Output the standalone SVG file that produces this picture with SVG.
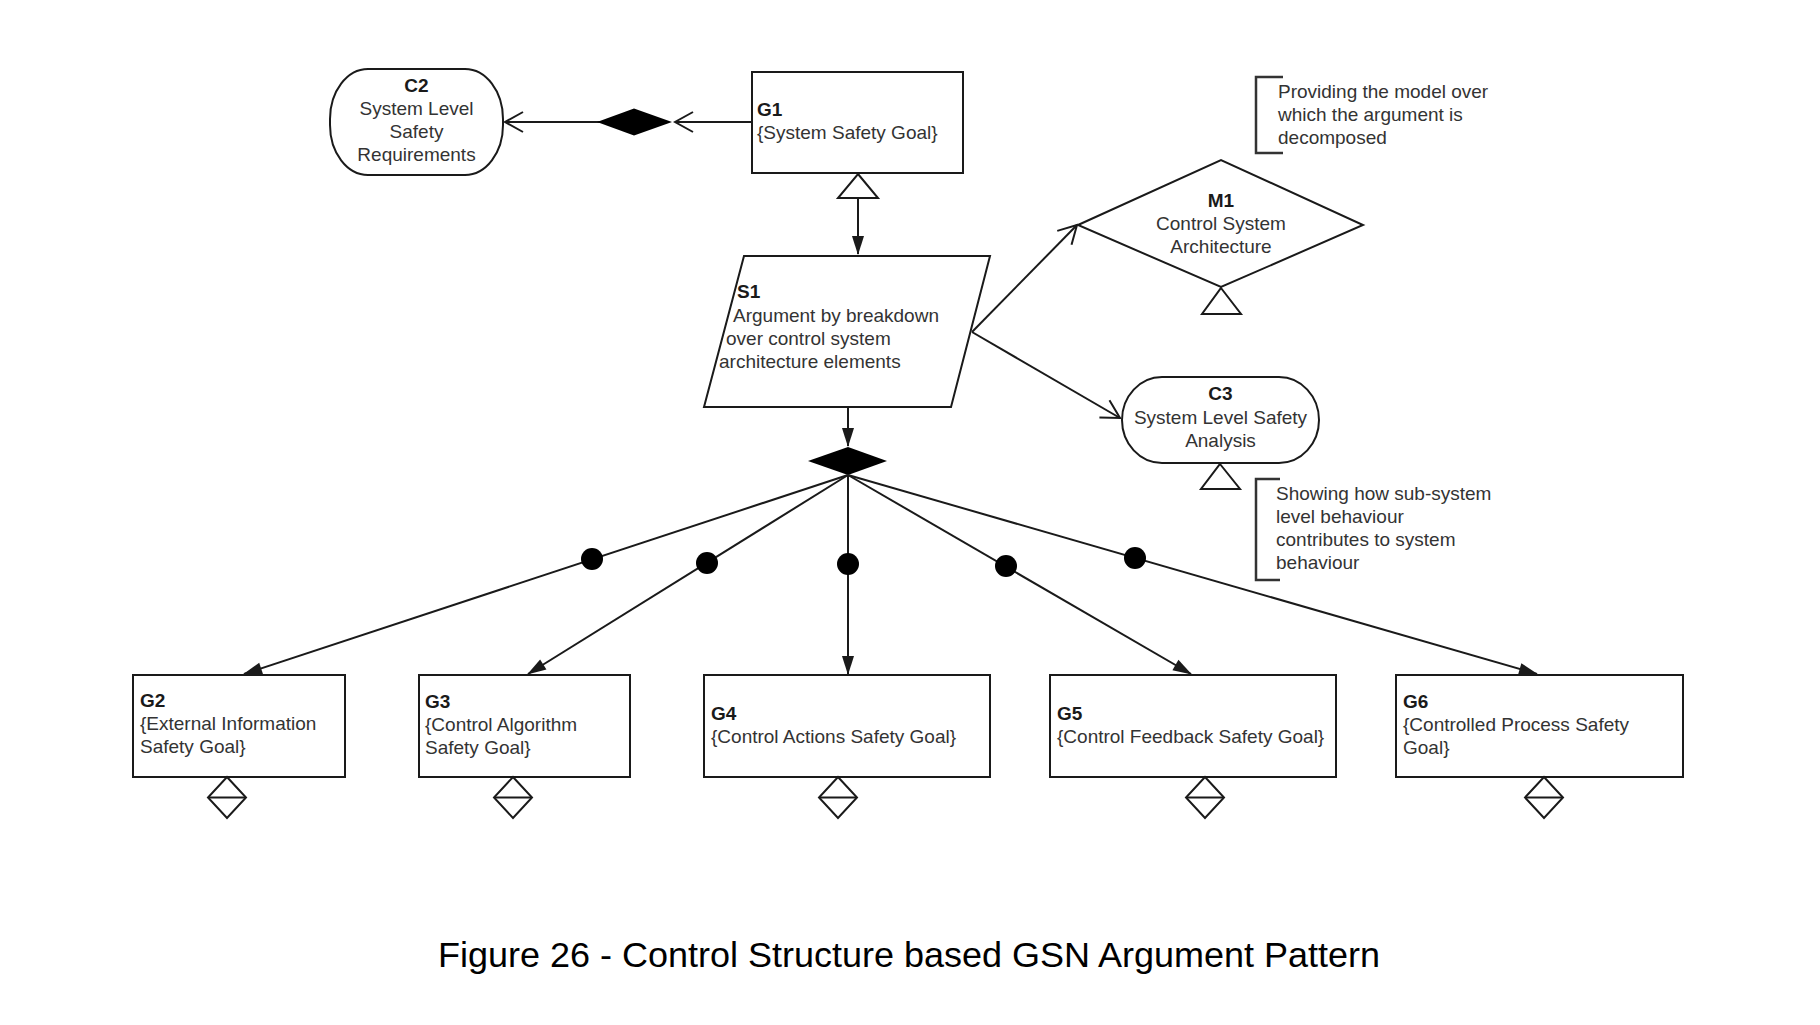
<svg xmlns="http://www.w3.org/2000/svg" width="1820" height="1025" viewBox="0 0 1820 1025">
<defs>
<style>
.shape{fill:#fff;stroke:#1a1a1a;stroke-width:2}
.edge{fill:none;stroke:#1a1a1a;stroke-width:2}
.t{font-family:"Liberation Sans",Arial,sans-serif;font-size:19px;fill:#333}
.b{font-family:"Liberation Sans",Arial,sans-serif;font-size:19px;font-weight:bold;fill:#1a1a1a}
.c{text-anchor:middle}
.br{fill:none;stroke:#333;stroke-width:2.5}
.cap{font-family:"Liberation Sans",Arial,sans-serif;font-size:35px;fill:#000}
</style>
<marker id="open" viewBox="-21 -12 23 24" refX="0" refY="0" markerWidth="23" markerHeight="24" orient="auto" markerUnits="userSpaceOnUse">
<path d="M-18,-10 L0,0 L-18,10" fill="none" stroke="#1a1a1a" stroke-width="2"/>
</marker>
<marker id="fill" viewBox="-20 -8 22 16" refX="0" refY="0" markerWidth="22" markerHeight="16" orient="auto" markerUnits="userSpaceOnUse">
<path d="M-18,-6 L1,0 L-18,6 Z" fill="#1a1a1a"/>
</marker>
</defs>
<rect width="1820" height="1025" fill="#fff"/>

<g id="connectors">
<line class="edge" x1="752" y1="122" x2="675" y2="122" marker-end="url(#open)"/>
<line class="edge" x1="600" y1="122" x2="505" y2="122" marker-end="url(#open)"/>
<polygon points="597,122 634,108.5 672,122 634,135.5" fill="#000"/>
<line class="edge" x1="858" y1="198" x2="858" y2="254" marker-end="url(#fill)"/>
<line class="edge" x1="972" y1="332" x2="1077" y2="225" marker-end="url(#open)"/>
<line class="edge" x1="972" y1="332" x2="1120" y2="418" marker-end="url(#open)"/>
<line class="edge" x1="848" y1="407" x2="848" y2="446" marker-end="url(#fill)"/>
<polygon points="808,461 848,447 887,461 848,475" fill="#000"/>
<line class="edge" x1="848" y1="475" x2="244" y2="674" marker-end="url(#fill)"/>
<line class="edge" x1="848" y1="475" x2="528" y2="674" marker-end="url(#fill)"/>
<line class="edge" x1="848" y1="475" x2="848" y2="674" marker-end="url(#fill)"/>
<line class="edge" x1="848" y1="475" x2="1191" y2="674" marker-end="url(#fill)"/>
<line class="edge" x1="848" y1="475" x2="1537" y2="674" marker-end="url(#fill)"/>
<circle cx="592" cy="559" r="11" fill="#000"/>
<circle cx="707" cy="563" r="11" fill="#000"/>
<circle cx="848" cy="564" r="11" fill="#000"/>
<circle cx="1006" cy="566" r="11" fill="#000"/>
<circle cx="1135" cy="558" r="11" fill="#000"/>
</g>

<g id="C2">
<rect class="shape" x="330" y="69" width="173" height="106" rx="38" ry="50"/>
<text class="b c" x="416.5" y="92">C2</text>
<text class="t c" x="416.5" y="115">System Level</text>
<text class="t c" x="416.5" y="138">Safety</text>
<text class="t c" x="416.5" y="161">Requirements</text>
</g>

<g id="G1">
<rect class="shape" x="752" y="72" width="211" height="101"/>
<text class="b" x="757" y="116">G1</text>
<text class="t" x="757" y="139">{System Safety Goal}</text>
<polygon class="shape" points="858,174 878,198 838,198"/>
</g>

<g id="S1">
<polygon class="shape" points="744,256 990,256 951,407 704,407"/>
<text class="b" x="737" y="298">S1</text>
<text class="t" x="733" y="322">Argument by breakdown</text>
<text class="t" x="726" y="345">over control system</text>
<text class="t" x="719" y="368">architecture elements</text>
</g>

<g id="M1">
<polygon class="shape" points="1078,225 1221,160 1363,225 1221,287"/>
<text class="b c" x="1221" y="207">M1</text>
<text class="t c" x="1221" y="230">Control System</text>
<text class="t c" x="1221" y="253">Architecture</text>
<polygon class="shape" points="1221,288 1241,314 1202,314"/>
</g>

<g id="C3">
<rect class="shape" x="1122" y="377" width="197" height="86" rx="40" ry="43"/>
<text class="b c" x="1220.5" y="400">C3</text>
<text class="t c" x="1220.5" y="424">System Level Safety</text>
<text class="t c" x="1220.5" y="447">Analysis</text>
<polygon class="shape" points="1220,464 1240,489 1201,489"/>
</g>

<g id="A1">
<path class="br" d="M1283,77 L1256,77 L1256,153 L1283,153"/>
<text class="t" x="1278" y="98">Providing the model over</text>
<text class="t" x="1278" y="121">which the argument is</text>
<text class="t" x="1278" y="144">decomposed</text>
</g>

<g id="A2">
<path class="br" d="M1280,479 L1256,479 L1256,580 L1280,580"/>
<text class="t" x="1276" y="500">Showing how sub-system</text>
<text class="t" x="1276" y="523">level behaviour</text>
<text class="t" x="1276" y="546">contributes to system</text>
<text class="t" x="1276" y="569">behaviour</text>
</g>

<g id="G2">
<rect class="shape" x="133" y="675" width="212" height="102"/>
<text class="b" x="140" y="707">G2</text>
<text class="t" x="140" y="730">{External Information</text>
<text class="t" x="140" y="753">Safety Goal}</text>
<polygon class="shape" points="227,777 246,797.5 227,818 208,797.5"/>
<line class="edge" x1="208" y1="797.5" x2="246" y2="797.5"/>
</g>

<g id="G3">
<rect class="shape" x="419" y="675" width="211" height="102"/>
<text class="b" x="425" y="708">G3</text>
<text class="t" x="425" y="731">{Control Algorithm</text>
<text class="t" x="425" y="754">Safety Goal}</text>
<polygon class="shape" points="513,777 532,797.5 513,818 494,797.5"/>
<line class="edge" x1="494" y1="797.5" x2="532" y2="797.5"/>
</g>

<g id="G4">
<rect class="shape" x="704" y="675" width="286" height="102"/>
<text class="b" x="711" y="720">G4</text>
<text class="t" x="711" y="743">{Control Actions Safety Goal}</text>
<polygon class="shape" points="838,777 857,797.5 838,818 819,797.5"/>
<line class="edge" x1="819" y1="797.5" x2="857" y2="797.5"/>
</g>

<g id="G5">
<rect class="shape" x="1050" y="675" width="286" height="102"/>
<text class="b" x="1057" y="720">G5</text>
<text class="t" x="1057" y="743">{Control Feedback Safety Goal}</text>
<polygon class="shape" points="1205,777 1224,797.5 1205,818 1186,797.5"/>
<line class="edge" x1="1186" y1="797.5" x2="1224" y2="797.5"/>
</g>

<g id="G6">
<rect class="shape" x="1396" y="675" width="287" height="102"/>
<text class="b" x="1403" y="708">G6</text>
<text class="t" x="1403" y="731">{Controlled Process Safety</text>
<text class="t" x="1403" y="754">Goal}</text>
<polygon class="shape" points="1544,777 1563,797.5 1544,818 1525,797.5"/>
<line class="edge" x1="1525" y1="797.5" x2="1563" y2="797.5"/>
</g>

<text class="cap" x="438" y="967" textLength="942" lengthAdjust="spacingAndGlyphs">Figure 26 - Control Structure based GSN Argument Pattern</text>
</svg>
